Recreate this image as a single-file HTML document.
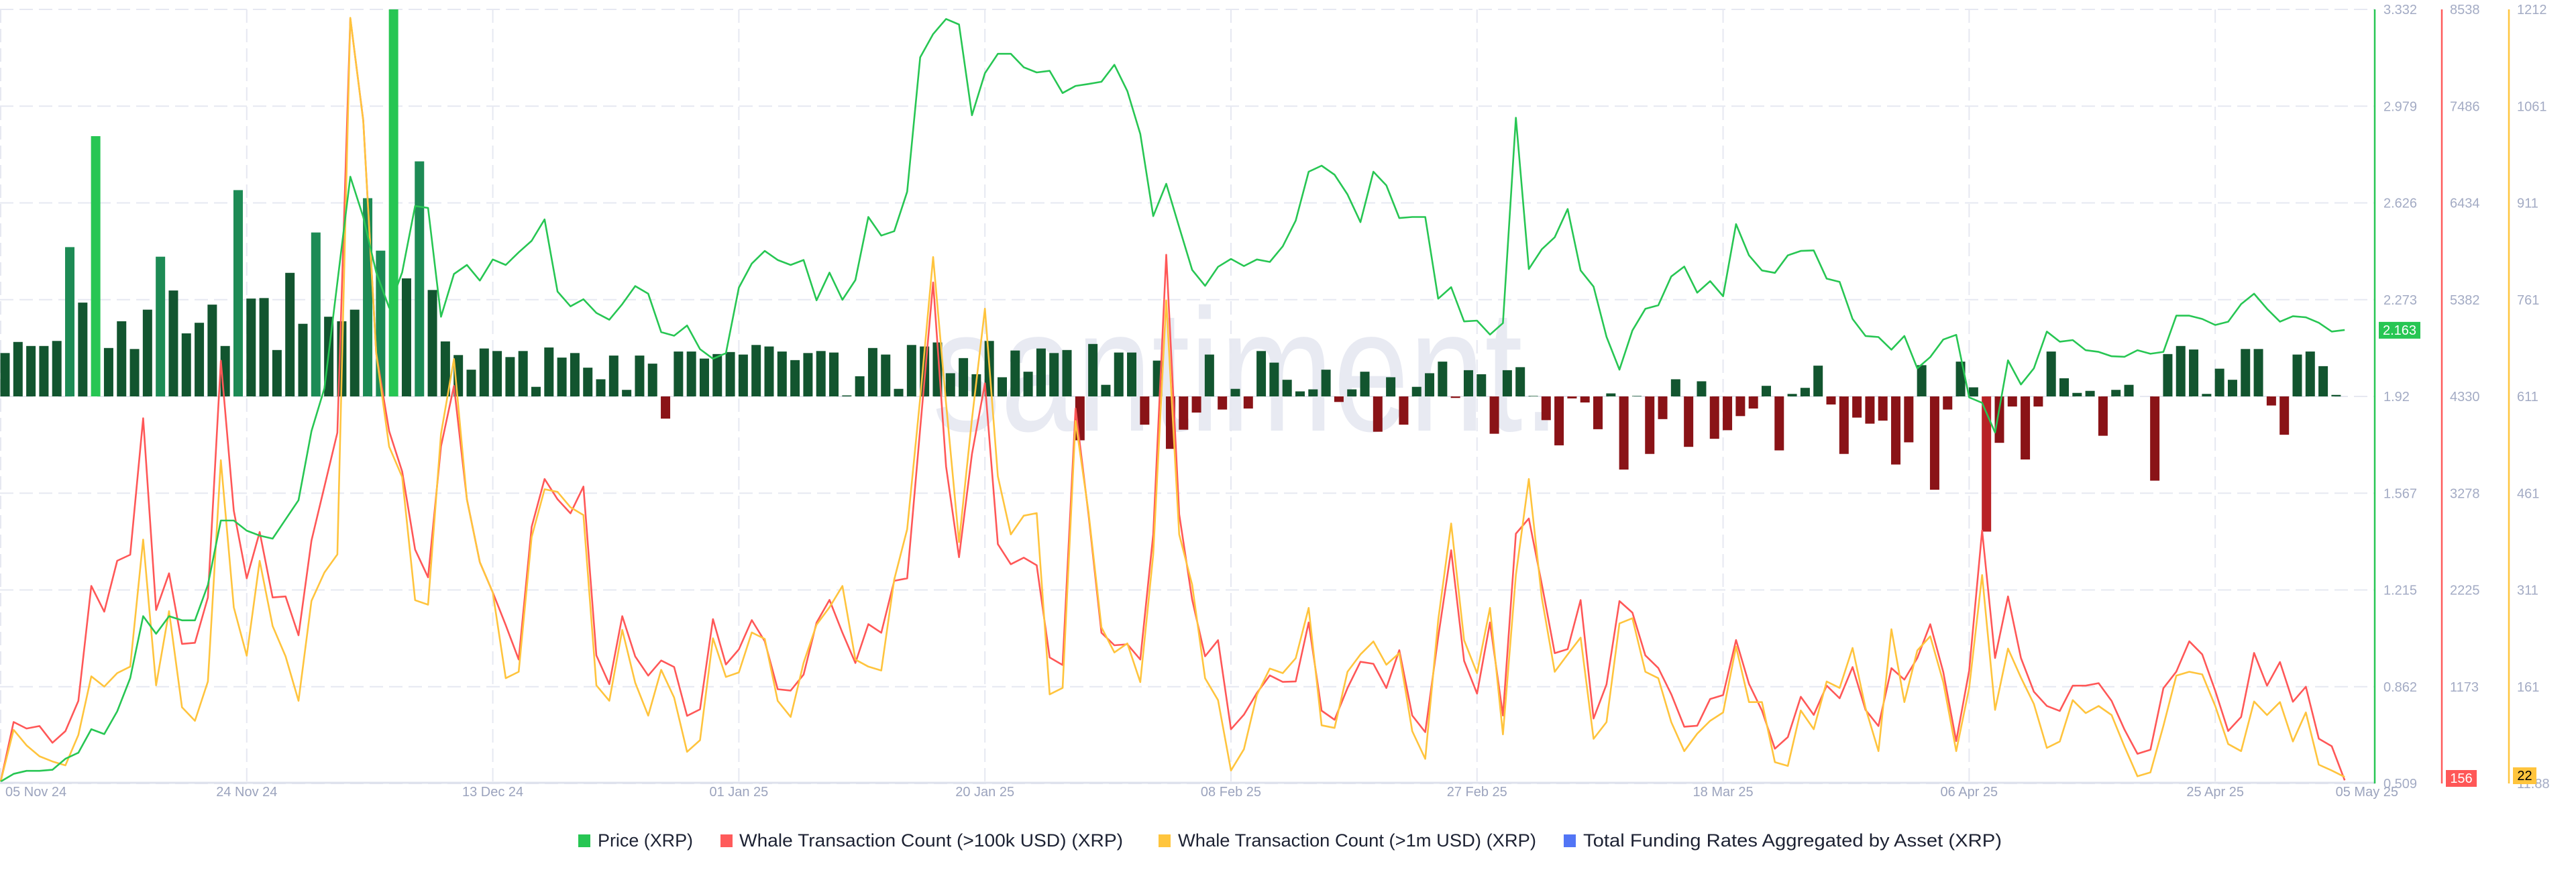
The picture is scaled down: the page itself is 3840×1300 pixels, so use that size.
<!DOCTYPE html>
<html><head><meta charset="utf-8"><title>XRP price, whale transactions and funding rates</title>
<style>
html,body{margin:0;padding:0;background:#fff;}
svg{display:block;font-family:"Liberation Sans",Arial,sans-serif;}
</style></head>
<body>
<svg id="chart" width="3840" height="1300" viewBox="0 0 3840 1300" xmlns="http://www.w3.org/2000/svg">
  <defs><clipPath id="plotClip"><rect x="0" y="14" width="3540" height="1154"/></clipPath></defs>
  <text x="1390" y="642" font-size="260" fill="#e8eaf2" textLength="936" lengthAdjust="spacingAndGlyphs">santiment.</text>
  <g id="grid"></g>
  <g id="bars" clip-path="url(#plotClip)"></g>
  <g id="lines"></g>
  <g id="axes"></g>
  <g id="legend">
    <g><rect x="862" y="1244" width="18" height="19" fill="#27c653"/><text x="891" y="1262" font-size="27" fill="#1d2233" textLength="142" lengthAdjust="spacingAndGlyphs">Price (XRP)</text></g>
    <g><rect x="1074" y="1244" width="18" height="19" fill="#ff5b5b"/><text x="1102" y="1262" font-size="27" fill="#1d2233" textLength="572" lengthAdjust="spacingAndGlyphs">Whale Transaction Count (&gt;100k USD) (XRP)</text></g>
    <g><rect x="1727" y="1244" width="18" height="19" fill="#ffc53d"/><text x="1756" y="1262" font-size="27" fill="#1d2233" textLength="534" lengthAdjust="spacingAndGlyphs">Whale Transaction Count (&gt;1m USD) (XRP)</text></g>
    <g><rect x="2331" y="1244" width="18" height="19" fill="#5275f5"/><text x="2360" y="1262" font-size="27" fill="#1d2233" textLength="624" lengthAdjust="spacingAndGlyphs">Total Funding Rates Aggregated by Asset (XRP)</text></g>
  </g>
</svg>
<script>
const priceData = [0.516,0.544,0.555,0.555,0.559,0.599,0.621,0.707,0.689,0.772,0.893,1.119,1.055,1.119,1.104,1.104,1.233,1.468,1.468,1.431,1.413,1.402,1.472,1.542,1.794,1.950,2.336,2.722,2.575,2.373,2.244,2.373,2.615,2.608,2.211,2.367,2.400,2.343,2.420,2.400,2.446,2.488,2.566,2.303,2.249,2.275,2.225,
2.200,2.257,2.323,2.295,2.155,2.142,2.179,2.093,2.058,2.078,2.317,2.405,2.451,2.418,2.400,2.418,2.271,2.372,2.273,2.345,2.575,2.507,2.523,2.667,3.157,3.242,3.297,3.277,2.946,3.099,3.170,3.170,3.121,3.102,3.108,3.027,3.053,3.060,3.068,3.130,3.034,2.878,2.578,2.696,2.538,2.382,
2.324,2.393,2.422,2.396,2.420,2.411,2.468,2.562,2.740,2.762,2.729,2.657,2.556,2.740,2.690,2.571,2.575,2.575,2.277,2.319,2.194,2.197,2.146,2.188,2.937,2.385,2.457,2.501,2.604,2.380,2.321,2.138,2.018,2.161,2.240,2.253,2.358,2.394,2.299,2.341,2.286,2.549,2.435,2.380,2.371,2.435,
2.451,2.453,2.350,2.338,2.203,2.141,2.137,2.091,2.141,2.023,2.064,2.128,2.145,1.917,1.897,1.789,2.052,1.964,2.023,2.157,2.120,2.126,2.089,2.083,2.067,2.065,2.089,2.076,2.083,2.215,2.215,2.203,2.181,2.193,2.257,2.295,2.240,2.193,2.213,2.209,2.189,2.157,2.163];
const whale100kData = [144,790,719,746,565,691,1020,2270,1990,2543,2609,4092,2008,2407,1640,1651,2144,4719,3088,2352,2856,2144,2155,1733,2763,3350,3936,8439,7332,4801,3952,3514,2665,2363,3788,4445,3212,2527,2199,1843,1470,2911,3432,3212,3059,3350,1514,
1201,1941,1503,1295,1459,1388,857,928,1909,1416,1580,1898,1668,1147,1131,1306,1870,2117,1761,1432,1854,1761,2325,2352,3979,5569,3568,2582,3705,4472,2724,2505,2577,2494,1492,1410,4198,3047,1761,1624,1635,1470,2829,5870,3049,2122,
1505,1680,711,870,1105,1297,1226,1231,1872,913,815,1160,1445,1423,1160,1571,861,680,1714,2658,1456,1099,1872,861,2838,3003,2290,1539,1583,2116,828,1199,2105,1979,1514,1377,1093,739,750,1040,1083,1681,1204,915,500,626,
1064,867,1185,1048,1387,922,746,1376,1251,1486,1853,1333,582,1349,2872,1486,2155,1486,1119,965,910,1185,1185,1212,1020,707,444,488,1157,1338,1667,1525,1130,692,845,1541,1185,1442,1010,1174,609,527,156];
const whale1mData = [15,95,71,54,46,40,87,178,162,183,193,390,164,279,130,109,170,513,285,210,357,256,209,140,295,339,367,1199,1039,679,534,487,296,289,554,670,452,355,308,175,185,394,468,464,440,428,164,
140,250,168,117,188,145,61,79,237,177,184,246,236,140,115,199,258,285,318,204,193,187,328,406,609,828,601,386,577,748,488,398,427,431,150,160,574,433,254,215,229,169,367,761,398,320,
175,141,32,65,149,190,183,206,284,102,98,185,212,232,196,214,93,50,265,415,234,183,284,88,335,484,300,185,212,238,81,107,260,268,185,175,107,62,89,109,122,224,138,138,45,39,
125,96,170,160,222,129,62,251,138,218,240,169,62,160,335,126,221,176,135,67,77,141,121,132,118,69,23,29,101,179,185,181,132,73,62,139,118,138,77,122,41,32,22];
const fundingData = [8.6,10.8,10,10,11,29.6,18.6,51.6,9.6,14.9,9.4,17.2,27.7,21,12.5,14.6,18.2,10,40.9,19.4,19.5,9.2,24.5,14.4,32.5,15.8,14.9,17.2,39.3,28.9,80,23.4,46.6,21.1,10.9,8.2,5.3,9.5,9,7.8,9,1.9,9.7,7.7,8.6,5.7,3.4,
8.1,1.3,8.1,6.5,-4.4,8.9,8.9,7.5,8.4,8.8,8.3,10.2,9.9,8.9,7.2,8.6,9,8.7,0.2,4,9.6,8.3,1.5,10.2,9.9,10.7,4.6,7.6,4.4,11,3.8,9.1,4.9,9.5,8.6,9.2,-8.7,10.4,2.3,8.7,8.7,-5.6,7.1,-10.4,-6.6,-3.2,
8.3,-2.6,1.5,-2.4,9.0,6.7,3.3,1.0,1.4,5.3,-1.1,1.4,4.9,-7.0,3.8,-5.6,1.9,4.6,6.9,-0.3,5.2,4.4,-7.4,5.2,5.8,0.1,-4.7,-9.7,-0.4,-1.2,-6.5,0.6,-14.5,0.1,-11.4,-4.5,3.4,-10,3.0,-8.4,-6.7,-3.9,-2.4,2.1,-10.7,0.5,
1.7,6.1,-1.6,-11.4,-4.2,-5.4,-4.8,-13.5,-9.1,6.2,-18.5,-2.6,6.9,1.8,-26.8,-9.2,-2.0,-12.5,-2.0,8.9,3.6,0.7,1.1,-7.8,1.3,2.3,0,-16.7,8.4,10,9.3,0.5,5.5,3.3,9.4,9.4,-1.8,-7.6,8.3,8.9,6.0,0.3,0];
const priceTicks = ["3.332","2.979","2.626","2.273","1.92","1.567","1.215","0.862","0.509"];
const whale100kTicks = ["8538","7486","6434","5382","4330","3278","2225","1173"];
const whale1mTicks = ["1212","1061","911","761","611","461","311","161","11.88"];
const dateTickDays = [0,19,38,57,76,95,114,133,152,171,181];
const dateTickLabels = ["05 Nov 24","24 Nov 24","13 Dec 24","01 Jan 25","20 Jan 25","08 Feb 25","27 Feb 25","18 Mar 25","06 Apr 25","25 Apr 25","05 May 25"];

const NS = "http://www.w3.org/2000/svg";
const TOP = 14, BOT = 1168, H = BOT - TOP;
const xDay = i => 1 + 19.305 * i;
const yPrice = v => TOP + (3.332 - v) / (3.332 - 0.509) * H;
const y100k = v => TOP + (8538 - v) / (8538 - 122) * H;
const y1m = v => TOP + (1212 - v) / (1212 - 11.88) * H;
const ZERO = 591;
const yFund = v => ZERO - v * 7.52;
function mk(tag, attrs, parent) {
  const el = document.createElementNS(NS, tag);
  for (const k in attrs) el.setAttribute(k, attrs[k]);
  parent.appendChild(el);
  return el;
}
const grid = document.getElementById('grid');
const axes = document.getElementById('axes');
const barsG = document.getElementById('bars');
const linesG = document.getElementById('lines');

for (let k = 0; k < priceTicks.length; k++) {
  const y = TOP + k * H / 8;
  const g = mk('line', {x1: 0, x2: 3540, y1: y, y2: y, stroke: '#e6e8f1', 'stroke-width': 2, 'stroke-dasharray': '20 9'}, grid);
  
  
}
for (let k = 0; k < dateTickDays.length - 1; k++) {
  const x = xDay(dateTickDays[k]);
  const g = mk('line', {x1: x, x2: x, y1: TOP, y2: BOT, stroke: '#e6e8f1', 'stroke-width': 2, 'stroke-dasharray': '20 9'}, grid);
  
  
}

for (let i = 0; i < fundingData.length; i++) {
  const v = fundingData[i];
  if (v === 0) continue;
  const y = yFund(v);
  let fill;
  if (v >= 50) fill = '#27c653';
  else if (v >= 26) fill = '#1d8b55';
  else if (v > 0) fill = '#12552f';
  else if (v <= -20) fill = '#b82226';
  else fill = '#8a1317';
  const r = mk('rect', {x: xDay(i) - 0.5, width: 14, y: Math.min(y, ZERO), height: Math.abs(ZERO - y), fill: fill}, barsG);
  
  
}

function line(data, yf, color, name) {
  const pts = data.map((v, i) => xDay(i).toFixed(1) + ',' + yf(v).toFixed(1)).join(' ');
  const p = mk('polyline', {points: pts, fill: 'none', stroke: color, 'stroke-width': 2.6, 'stroke-linejoin': 'round'}, linesG);
  
  
}
line(whale100kData, y100k, '#ff5757', 'whale-100k-line');
line(whale1mData, y1m, '#ffc43d', 'whale-1m-line');
line(priceData, yPrice, '#27c653', 'price-line');

const xa = mk('line', {x1: 0, x2: 3540, y1: 1167, y2: 1167, stroke: '#dde1ec', 'stroke-width': 3}, axes);


for (let k = 0; k < dateTickDays.length; k++) {
  let x = xDay(dateTickDays[k]), anchor = 'middle';
  if (k === 0) { x = 8; anchor = 'start'; }
  if (k === dateTickDays.length - 1) { x = 3575; anchor = 'end'; }
  const t = mk('text', {x: x, y: 1187, 'font-size': 20, fill: '#9ba3bd', 'text-anchor': anchor}, axes);
  t.textContent = dateTickLabels[k];
  
  
}
const axisDefs = [[3540, '#27c653', 'price-axis-line'], [3640, '#ff5b5b', 'whale-100k-axis-line'], [3740, '#ffc53d', 'whale-1m-axis-line']];
for (const [x, c, n] of axisDefs) {
  const l = mk('line', {x1: x, x2: x, y1: TOP, y2: BOT, stroke: c, 'stroke-width': 2.5}, axes);
  
  
}
function tickCol(ticks, x, name) {
  for (let k = 0; k < ticks.length; k++) {
    const t = mk('text', {x: x, y: TOP + k * H / 8 + 7, 'font-size': 20, fill: '#a3abc4'}, axes);
    t.textContent = ticks[k];
    
    
  }
}
tickCol(priceTicks, 3553, 'price-tick-label');
tickCol(whale100kTicks, 3652, 'whale-100k-tick-label');
tickCol(whale1mTicks, 3752, 'whale-1m-tick-label');

function badge(x, yc, w, bg, fg, txt, name) {
  const g = mk('g', {}, axes);
  
  
  mk('rect', {x: x, y: yc - 12, width: w, height: 25, fill: bg}, g);
  const t = mk('text', {x: x + w / 2, y: yc + 7, 'font-size': 20, fill: fg, 'text-anchor': 'middle'}, g);
  t.textContent = txt;
}
const lastP = priceData[priceData.length - 1];
const last100k = whale100kData[whale100kData.length - 1];
const last1m = whale1mData[whale1mData.length - 1];
badge(3546, yPrice(lastP), 62, '#27c653', '#ffffff', lastP.toFixed(3), 'price-current-badge');
badge(3646, Math.min(y100k(last100k), 1160), 46, '#ff5757', '#ffffff', String(last100k), 'whale-100k-current-badge');
badge(3746, Math.min(y1m(last1m), 1156), 35, '#ffc43d', '#000000', String(last1m), 'whale-1m-current-badge');
</script>
</body></html>
